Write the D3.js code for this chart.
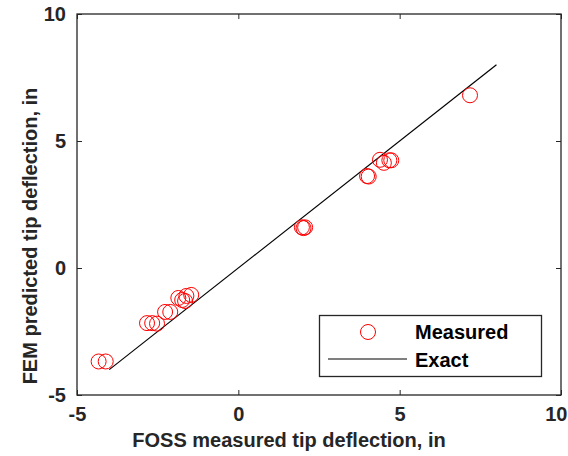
<!DOCTYPE html>
<html>
<head>
<meta charset="utf-8">
<script src="https://cdn.jsdelivr.net/npm/d3@7"></script>
<style>
  html, body { margin: 0; padding: 0; background: #fff; }
  svg { display: block; font-family: "Liberation Sans", Arial, sans-serif; }
</style>
</head>
<body>
<svg id="chart" width="568" height="456"></svg>
<script>
// FOSS measured vs FEM predicted tip deflection (in)
const measuredX = [-4.33, -4.11, -2.83, -2.67, -2.52, -2.27, -2.11, -1.86, -1.74, -1.65, -1.61, -1.46,
                   1.97, 2.02, 2.07, 3.99, 4.04, 4.39, 4.51, 4.68, 4.74, 7.18];
const predictedY = [-3.68, -3.68, -2.17, -2.17, -2.19, -1.73, -1.73, -1.18, -1.26, -1.30, -1.10, -1.06,
                   1.60, 1.57, 1.60, 3.62, 3.60, 4.26, 4.14, 4.24, 4.24, 6.80];
const exactX = [-4, 8];
const exactY = [-4, 8];
const xTicks = [-5, 0, 5, 10];
const yTicks = [-5, 0, 5, 10];
const xLabel = "FOSS measured tip deflection, in";
const yLabel = "FEM predicted tip deflection, in";
const legendLabels = ["Measured", "Exact"];

const svg = d3.select("#chart");
const axisColor = "#262626";
const plot = { left: 77, right: 561, top: 14, bottom: 395 };

const x = d3.scaleLinear().domain([-5, 10]).range([plot.left, plot.right]);
const y = d3.scaleLinear().domain([-5, 10]).range([plot.bottom, plot.top]);

// plain hyphen-minus for negative tick labels
const fmt = d => String(d);

// Box frame
svg.append("rect")
  .attr("x", plot.left).attr("y", plot.top)
  .attr("width", plot.right - plot.left).attr("height", plot.bottom - plot.top)
  .attr("fill", "none").attr("stroke", axisColor).attr("stroke-width", 1.3);

const tickLen = 5;
function styleAxis(g) {
  g.select(".domain").remove();
  g.selectAll(".tick line").attr("stroke", axisColor).attr("stroke-width", 1);
  g.selectAll(".tick text").attr("fill", axisColor)
    .style("font-size", "20px").style("font-weight", "bold")
    .style("font-family", '"Liberation Sans", Arial, sans-serif');
}

// Bottom and left axes (ticks pointing inward)
const xAxisG = svg.append("g").attr("transform", `translate(0,${plot.bottom})`)
  .call(d3.axisBottom(x).tickValues(xTicks).tickSize(-tickLen).tickPadding(12).tickFormat(fmt))
  .call(styleAxis);
// keep the last label inside the canvas edge
xAxisG.selectAll(".tick text").filter(d => d === 10)
  .attr("text-anchor", "end").attr("dx", "0.3em");
svg.append("g").attr("transform", `translate(${plot.left},0)`)
  .call(d3.axisLeft(y).tickValues(yTicks).tickSize(-tickLen).tickPadding(11).tickFormat(fmt))
  .call(styleAxis);
// Top and right axes, ticks only
svg.append("g").attr("transform", `translate(0,${plot.top})`)
  .call(d3.axisTop(x).tickValues(xTicks).tickSize(-tickLen).tickFormat(""))
  .call(styleAxis);
svg.append("g").attr("transform", `translate(${plot.right},0)`)
  .call(d3.axisRight(y).tickValues(yTicks).tickSize(-tickLen).tickFormat(""))
  .call(styleAxis);

// Exact (1:1) line
const exactData = exactX.map((v, i) => [v, exactY[i]]);
svg.append("path")
  .datum(exactData)
  .attr("d", d3.line().x(d => x(d[0])).y(d => y(d[1])))
  .attr("fill", "none").attr("stroke", "#000").attr("stroke-width", 1.2);

// Measured points
const pts = measuredX.map((v, i) => [v, predictedY[i]]);
svg.append("g").selectAll("circle").data(pts).join("circle")
  .attr("cx", d => x(d[0])).attr("cy", d => y(d[1])).attr("r", 7.5)
  .attr("fill", "none").attr("stroke", "#ff0000").attr("stroke-width", 1);

// Axis titles
svg.append("text")
  .attr("x", 289).attr("y", 447)
  .attr("text-anchor", "middle").attr("fill", axisColor)
  .style("font-size", "20px").style("font-weight", "bold")
  .text(xLabel);
svg.append("text")
  .attr("transform", "translate(37,236) rotate(-90)")
  .attr("text-anchor", "middle").attr("fill", axisColor)
  .style("font-size", "20px").style("font-weight", "bold")
  .text(yLabel);

// Legend
const lg = svg.append("g");
lg.append("rect").attr("x", 319.5).attr("y", 315.5).attr("width", 222).attr("height", 61)
  .attr("fill", "#fff").attr("stroke", axisColor).attr("stroke-width", 1.3);
lg.append("circle").attr("cx", 368).attr("cy", 332).attr("r", 7.5)
  .attr("fill", "none").attr("stroke", "#ff0000").attr("stroke-width", 1);
lg.append("line").attr("x1", 328).attr("x2", 407).attr("y1", 359).attr("y2", 359)
  .attr("stroke", "#000").attr("stroke-width", 1.2);
lg.selectAll("text").data(legendLabels).join("text")
  .attr("x", 415).attr("y", (d, i) => 339 + i * 28)
  .attr("fill", "#000")
  .style("font-size", "20px").style("font-weight", "bold")
  .text(d => d);
</script>
</body>
</html>
